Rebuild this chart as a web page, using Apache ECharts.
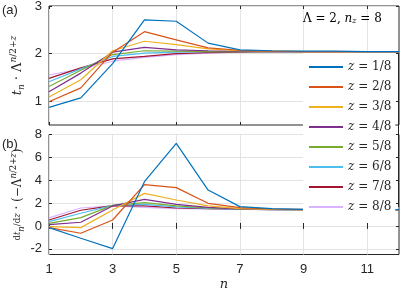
<!DOCTYPE html>
<html><head><meta charset="utf-8">
<script src="https://cdn.jsdelivr.net/npm/echarts@6/dist/echarts.min.js"></script>
<style>html,body{margin:0;padding:0;background:#fff}#c{width:406px;height:292px}</style>
</head><body><div id="c"></div>
<script>
const nValues = [1,2,3,4,5,6,7,8,9,10,11,12];
const zNames = ['1/8','2/8','3/8','4/8','5/8','6/8','7/8','8/8'];
const colors = ['#0072BD','#D95319','#EDB120','#7E2F8E','#77AC30','#4DBEEE','#A2142F','#D9B3FF'];
// panel (a): t_n * Lambda^(n/2+z)
const topZ1 = [0.87,1.07,1.79,2.71,2.68,2.22,2.08,2.06,2.05,2.05,2.04,2.04];
const topZ2 = [0.99,1.28,2.03,2.46,2.29,2.12,2.07,2.05,2.04,2.04,2.04,2.04];
const topZ3 = [1.09,1.45,2.06,2.26,2.19,2.10,2.06,2.05,2.04,2.04,2.04,2.04];
const topZ4 = [1.20,1.59,2.03,2.13,2.08,2.06,2.05,2.04,2.04,2.04,2.04,2.04];
const topZ5 = [1.31,1.65,1.98,2.06,2.05,2.04,2.04,2.04,2.04,2.04,2.04,2.04];
const topZ6 = [1.41,1.68,1.94,2.01,2.03,2.04,2.04,2.04,2.04,2.04,2.04,2.04];
const topZ7 = [1.48,1.70,1.89,1.94,2.00,2.02,2.03,2.04,2.04,2.04,2.04,2.04];
const topZ8 = [1.55,1.68,1.84,1.92,1.98,2.01,2.03,2.04,2.04,2.04,2.04,2.04];
// panel (b): dt_n/dz * (-Lambda^(n/2+z))
const botZ1 = [-0.15,-1.08,-1.98,3.87,7.22,3.14,1.69,1.52,1.45,1.43,1.42,1.42];
const botZ2 = [-0.15,-0.64,0.52,3.61,3.35,1.98,1.60,1.48,1.44,1.42,1.42,1.42];
const botZ3 = [-0.06,-0.15,1.40,2.85,2.27,1.75,1.52,1.45,1.43,1.42,1.42,1.42];
const botZ4 = [0.12,0.32,1.75,2.33,1.89,1.63,1.50,1.44,1.42,1.42,1.42,1.42];
const botZ5 = [0.23,0.73,1.80,2.04,1.75,1.57,1.48,1.44,1.42,1.42,1.42,1.42];
const botZ6 = [0.38,1.11,1.80,1.89,1.66,1.54,1.47,1.43,1.42,1.42,1.42,1.42];
const botZ7 = [0.52,1.37,1.78,1.75,1.57,1.51,1.46,1.43,1.42,1.42,1.42,1.42];
const botZ8 = [0.70,1.57,1.75,1.63,1.51,1.48,1.45,1.43,1.42,1.42,1.42,1.42];
const xTicks = [1,3,5,7,9,11];
const topYTicks = [1,2,3];
const botYTicks = [-2,0,2,4,6,8];

const topSeries = [topZ1,topZ2,topZ3,topZ4,topZ5,topZ6,topZ7,topZ8];
const botSeries = [botZ1,botZ2,botZ3,botZ4,botZ5,botZ6,botZ7,botZ8];

const frame = '#262626';
const gridC = '#e3e3e3';
const sans = 'Liberation Sans';
const serif = 'DejaVu Serif';

function xAx(gi, showLabels, pos) {
  return {
    type:'value', gridIndex: gi, min:1, max:12, position: pos,
    axisLine:{show:false},
    axisTick:{show:true, inside:true, length:3, lineStyle:{color:frame}, customValues:xTicks},
    axisLabel:{show:showLabels, customValues:xTicks, color:'#262626', fontFamily:sans, fontSize:13, margin:8},
    splitLine:{show: pos==='bottom', lineStyle:{color:gridC, width:1}}
  };
}
function yAx(gi, min, max, ticks, pos, showLabels) {
  return {
    type:'value', gridIndex: gi, min:min, max:max, position: pos,
    axisLine:{show:false},
    axisTick:{show:true, inside:true, length:3, lineStyle:{color:frame}, customValues:ticks},
    axisLabel:{show:showLabels, customValues:ticks, color:'#262626', fontFamily:sans, fontSize:13, margin:7},
    splitLine:{show: pos==='left', lineStyle:{color:gridC, width:1}}
  };
}

const xAxes = [xAx(0,false,'bottom'), xAx(1,true,'bottom'), xAx(0,false,'top'), xAx(1,false,'top')];
xAxes[1].name = 'n';
xAxes[1].nameLocation = 'middle';
xAxes[1].nameGap = 24;
xAxes[1].nameMoveOverlap = false;
xAxes[1].nameTextStyle = {fontFamily:serif, fontStyle:'italic', fontSize:13, color:'#262626'};

const yAxes = [yAx(0,0.5,3,topYTicks,'left',true), yAx(1,-2.5,8,botYTicks,'left',true),
               yAx(0,0.5,3,topYTicks,'right',false), yAx(1,-2.5,8,botYTicks,'right',false)];
function makeRich(fs, ss) {
  return {
    r:{fontFamily:serif, fontSize:fs, color:'#262626'},
    i:{fontFamily:serif, fontStyle:'italic', fontSize:fs, color:'#262626'},
    sub:{fontFamily:serif, fontStyle:'italic', fontSize:ss, color:'#262626', verticalAlign:'bottom'},
    sup:{fontFamily:serif, fontStyle:'italic', fontSize:ss, color:'#262626', verticalAlign:'top'},
    supr:{fontFamily:serif, fontSize:ss, color:'#262626', verticalAlign:'top'},
    sm:{fontFamily:serif, fontSize:ss, color:'#262626'},
    smi:{fontFamily:serif, fontStyle:'italic', fontSize:ss, color:'#262626'}
  };
}
const annRich = {
  r:{fontFamily:serif, fontSize:12, color:'#262626'},
  i:{fontFamily:serif, fontStyle:'italic', fontSize:12, color:'#262626'},
  sub:{fontFamily:serif, fontStyle:'italic', fontSize:8, color:'#262626', verticalAlign:'bottom'}
};
yAxes[0].name = '{i|t}{sub|n}{r| · Λ}{sup|n}{supr|/2+}{sup|z}';
yAxes[0].nameLocation = 'middle';
yAxes[0].nameGap = 23;
yAxes[0].nameMoveOverlap = false;
yAxes[0].nameTextStyle = {rich: makeRich(13, 9), lineHeight:17};
yAxes[1].name = '{sm|d}{smi|t}{sub|n}{sm|/d}{smi|z}{r| · (−Λ}{sup|n}{supr|/2+}{sup|z}{r|)}';
yAxes[1].nameLocation = 'middle';
yAxes[1].nameGap = 23;
yAxes[1].nameMoveOverlap = false;
yAxes[1].nameTextStyle = {rich: makeRich(12, 8.5), lineHeight:17};

const series = [];
topSeries.forEach((arr, k) => {
  series.push({type:'line', name:'z = ' + zNames[k], xAxisIndex:0, yAxisIndex:0,
    data: nValues.map((n,i)=>[n, arr[i]]), symbol:'none', color: colors[k],
    lineStyle:{width:1.2, color: colors[k]}, z: 10 - k, animation:false});
});
botSeries.forEach((arr, k) => {
  series.push({type:'line', name:'z = ' + zNames[k], xAxisIndex:1, yAxisIndex:1,
    data: nValues.map((n,i)=>[n, arr[i]]), symbol:'none', color: colors[k],
    lineStyle:{width:1.2, color: colors[k]}, z: 10 - k, animation:false});
});

const chart = echarts.init(document.getElementById('c'), null, {renderer:'canvas'});
chart.setOption({
  animation:false,
  backgroundColor:'#fff',
  grid:[
    {left:49, top:6, right:7, height:119, outerBoundsMode:'none', containLabel:false, show:true, borderColor:frame, borderWidth:1, backgroundColor:'transparent'},
    {left:49, top:134.5, right:7, height:120, outerBoundsMode:'none', containLabel:false, show:true, borderColor:frame, borderWidth:1, backgroundColor:'transparent'}
  ],
  xAxis: xAxes,
  yAxis: yAxes,
  legend:{
    orient:'vertical', left:303, top:53,
    padding:[8,4,10,5], itemWidth:34, itemHeight:10, itemGap:8,
    backgroundColor:'#fff', borderWidth:0,
    data: zNames.map(z=>'z = '+z),
    itemStyle:{opacity:0},
    formatter: (name)=> '{i|z}{r|' + name.slice(1) + '}',
    textStyle:{rich:{
      i:{fontFamily:serif, fontStyle:'italic', fontSize:12, color:'#262626'},
      r:{fontFamily:serif, fontSize:12, color:'#262626'}
    }},
    selectedMode:false, z:20
  },
  graphic:[
    {type:'text', left:2, top:4, style:{text:'(a)', font:'13px "Liberation Sans"', fill:'#262626'}},
    {type:'text', left:2, top:138, style:{text:'(b)', font:'13px "Liberation Sans"', fill:'#262626'}},
    {type:'line', shape:{x1:398.5,y1:53,x2:398.5,y2:207}, style:{stroke:frame, lineWidth:1}, z:30},
    {type:'text', left:303, top:13, z:30, style:{
      text:'{r|Λ = 2, }{i|n}{sub|z}{r| = 8}', rich: annRich}}
  ],
  series: series
});
</script></body></html>
